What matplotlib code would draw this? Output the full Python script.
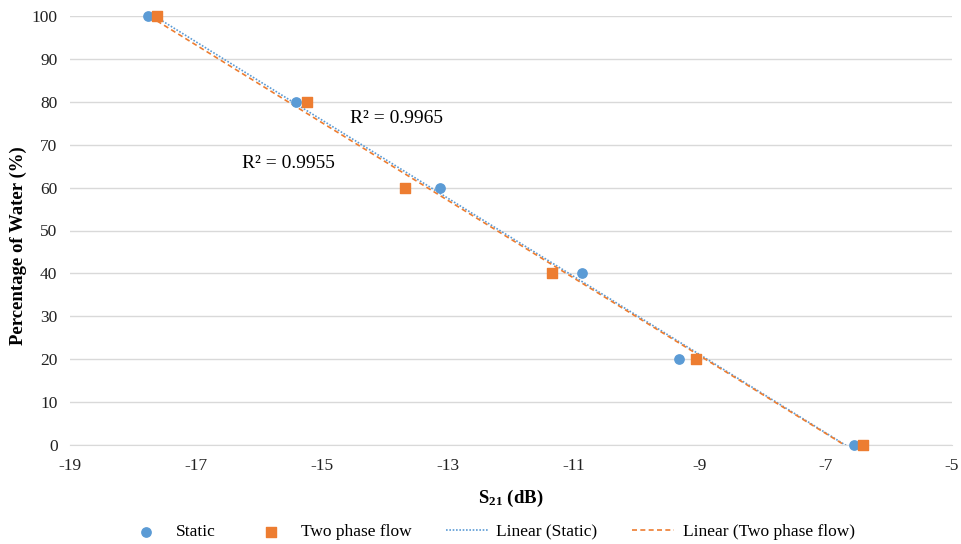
import matplotlib

matplotlib.use("Agg")

import matplotlib.pyplot as plt
import numpy as np

plt.rcParams["font.family"] = ["Liberation Serif", "DejaVu Serif"]
plt.rcParams["axes.unicode_minus"] = False
plt.rcParams["mathtext.fontset"] = "custom"
plt.rcParams["mathtext.rm"] = "Liberation Serif"
plt.rcParams["mathtext.bf"] = "Liberation Serif:bold"

water_pct = [100, 80, 60, 40, 20, 0]
s21_static = [-17.76, -15.41, -13.13, -10.87, -9.33, -6.56]
s21_flow = [-17.62, -15.24, -13.68, -11.35, -9.06, -6.41]
r2_static = "R\u00b2 = 0.9965"
r2_flow = "R\u00b2 = 0.9955"

BLUE = "#5b9bd5"
ORANGE = "#ed7d31"


def fit_line(x, y):
    x = np.asarray(x, dtype=float)
    y = np.asarray(y, dtype=float)
    slope, intercept = np.polyfit(x, y, 1)
    xs = np.array([x.min(), x.max()])
    return xs, slope * xs + intercept


fig = plt.figure(figsize=(9.61, 5.44), dpi=100)
ax = fig.add_axes([70 / 961, 1 - 445 / 544, 882 / 961, 429 / 544])

xs, ys = fit_line(s21_static, water_pct)
ax.plot(xs, ys, linestyle=(0, (1, 1)), color=BLUE, lw=1.2, label="Linear (Static)", zorder=2)
xs, ys = fit_line(s21_flow, water_pct)
ax.plot(xs, ys, linestyle=(0, (3, 2)), color=ORANGE, lw=1.2, label="Linear (Two phase flow)", zorder=2)

ax.scatter(s21_static, water_pct, marker="o", s=45, color=BLUE, label="Static", zorder=3, clip_on=False)
ax.scatter(s21_flow, water_pct, marker="s", s=45, color=ORANGE, label="Two phase flow", zorder=3, clip_on=False)

ax.set_xlim(-19, -5)
ax.set_ylim(0, 100)
ax.set_xticks(np.arange(-19, -4, 2))
ax.set_yticks(np.arange(0, 101, 10))
ax.grid(axis="y", color="#d9d9d9", lw=1)
ax.set_axisbelow(True)
for side in ("left", "right", "top"):
    ax.spines[side].set_visible(False)
ax.spines["bottom"].set_color("#d9d9d9")
ax.tick_params(length=0, labelsize=12.5, colors="#222222", pad=9)

ax.text(-14.56, 76, r2_static, fontsize=14, ha="left", va="center")
ax.text(-16.27, 65.7, r2_flow, fontsize=14, ha="left", va="center")

ax.set_xlabel(r"$\mathbf{S_{21}}$ (dB)", fontsize=13.5, fontweight="bold", labelpad=10)
fig.text(18 / 961, 1 - 246 / 544, "Percentage of Water (%)", fontsize=13.5,
         fontweight="bold", rotation=90, ha="center", va="center")

handles, labels = ax.get_legend_handles_labels()
order = [2, 3, 0, 1]
fig.legend(
    [handles[i] for i in order],
    [labels[i] for i in order],
    loc="center",
    bbox_to_anchor=(490 / 961, 1 - 532 / 544),
    ncol=4,
    frameon=False,
    fontsize=12.5,
    handlelength=2.4,
    handletextpad=0.5,
    columnspacing=2.0,
)

fig.savefig("out.png", dpi=100)
